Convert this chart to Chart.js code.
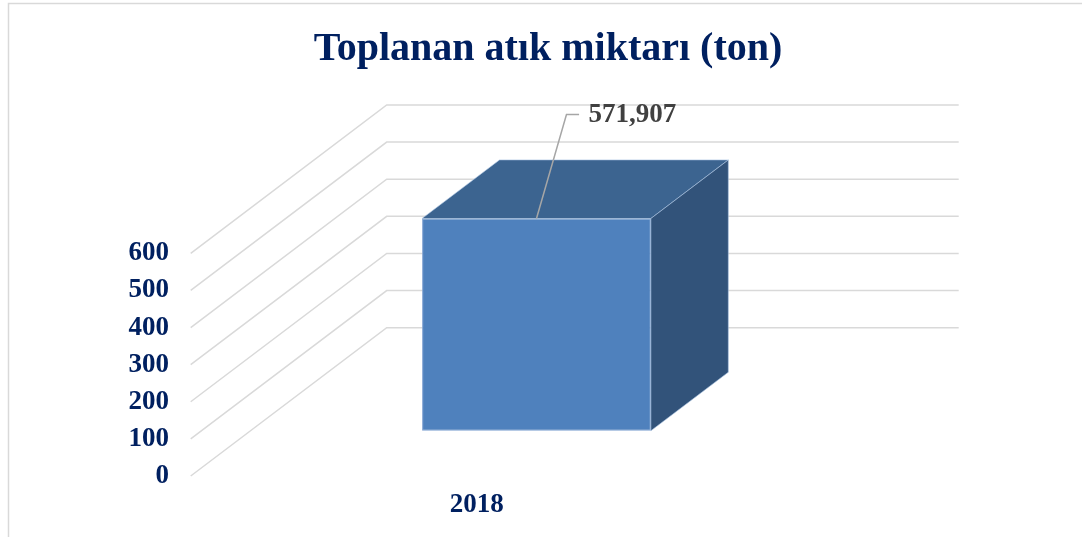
<!DOCTYPE html>
<html>
<head>
<meta charset="utf-8">
<title>Toplanan atık miktarı</title>
<script src="https://cdn.jsdelivr.net/npm/chart.js@4.4.1/dist/chart.umd.min.js"></script>
<style>
  html, body { margin: 0; padding: 0; background: #ffffff; }
</style>
</head>
<body>
<canvas id="myChart" width="1082" height="537"></canvas>
<script>
const categories = ['2018'];
const wasteTons = [571.907];
const tickValues = [0, 100, 200, 300, 400, 500, 600];

// depth vector of the 3D box (front plane -> back wall)
const DEPTH_X = 196;
const DEPTH_Y = -148.3;
const BAR_FRONT = 0.305;   // where the bar front sits, share of depth
const BAR_DEPTH = 0.395;   // bar thickness, share of depth

var navy = '#002060';
var serif = '"Liberation Serif", "DejaVu Serif", serif';

Chart.defaults.font.family = serif;

function formatTr(v) {
    return v.toFixed(3).replace('.', ',');
}

function face(ctx, pts, fill) {
    ctx.beginPath();
    ctx.moveTo(pts[0][0], pts[0][1]);
    for (var i = 1; i < pts.length; i++) {
        ctx.lineTo(pts[i][0], pts[i][1]);
    }
    ctx.closePath();
    ctx.fillStyle = fill;
    ctx.fill();
    ctx.strokeStyle = 'rgba(170, 195, 225, 0.6)';
    ctx.lineWidth = 1;
    ctx.stroke();
}

var box3d = {
    id: 'box3d',
    beforeDraw: function (chart) {
        // thin frame round the chart
        var ctx = chart.ctx;
        ctx.save();
        ctx.strokeStyle = '#d9d9d9';
        ctx.lineWidth = 1.5;
        ctx.strokeRect(8.5, 3.5, chart.width + 20, chart.height + 20);
        ctx.restore();
    },
    beforeDatasetsDraw: function (chart) {
        // side wall + back wall grid lines
        var ctx = chart.ctx, area = chart.chartArea, y = chart.scales.y;
        ctx.save();
        ctx.strokeStyle = '#d9d9d9';
        ctx.lineWidth = 1.5;
        y.ticks.forEach(function (t) {
            var py = y.getPixelForValue(t.value);
            ctx.beginPath();
            ctx.moveTo(area.left, py);
            ctx.lineTo(area.left + DEPTH_X, py + DEPTH_Y);
            ctx.lineTo(area.right + DEPTH_X, py + DEPTH_Y);
            ctx.stroke();
        });
        ctx.restore();
    },
    beforeDatasetDraw: function (chart) {
        // push the front face into the box
        chart.ctx.save();
        chart.ctx.translate(DEPTH_X * BAR_FRONT, DEPTH_Y * BAR_FRONT);
    },
    afterDatasetDraw: function (chart, args) {
        var ctx = chart.ctx;
        var bx = DEPTH_X * BAR_DEPTH, by = DEPTH_Y * BAR_DEPTH;
        args.meta.data.forEach(function (bar) {
            var p = bar.getProps(['x', 'y', 'base', 'width'], true);
            var l = p.x - p.width / 2, r = p.x + p.width / 2;
            face(ctx, [[l, p.y], [r, p.y], [r + bx, p.y + by], [l + bx, p.y + by]], '#3c6490');
            face(ctx, [[r, p.y], [r + bx, p.y + by], [r + bx, p.base + by], [r, p.base]], '#32537a');
        });
        ctx.restore();
    },
    afterDatasetsDraw: function (chart) {
        // value label with leader line
        var ctx = chart.ctx;
        var meta = chart.getDatasetMeta(0);
        ctx.save();
        meta.data.forEach(function (bar, i) {
            var sx = bar.x + DEPTH_X * BAR_FRONT;
            var sy = bar.y + DEPTH_Y * BAR_FRONT;
            var ex = sx + 30, ey = sy - 104;
            ctx.strokeStyle = '#a6a6a6';
            ctx.lineWidth = 1.5;
            ctx.beginPath();
            ctx.moveTo(sx, sy);
            ctx.lineTo(ex, ey);
            ctx.lineTo(ex + 12.6, ey);
            ctx.stroke();

            ctx.font = 'bold 27px ' + serif;
            ctx.fillStyle = '#404040';
            ctx.textAlign = 'left';
            ctx.textBaseline = 'middle';
            ctx.fillText(formatTr(wasteTons[i]), ex + 22, ey + 1);
        });
        ctx.restore();
    }
};

var ctx = document.getElementById('myChart').getContext('2d');

var chart = new Chart(ctx, {
    type: 'bar',
    data: {
        labels: categories,
        datasets: [{
            label: 'Toplanan atık (ton)',
            data: wasteTons,
            backgroundColor: '#4f81bd',
            borderColor: '#7fa2d2',
            borderWidth: 1,
            borderSkipped: false,
            barPercentage: 0.4,
            categoryPercentage: 1.0,
            clip: false
        }]
    },
    options: {
        responsive: false,
        animation: false,
        events: [],
        layout: { padding: { left: 14, right: 0, top: 0, bottom: 0 } },
        plugins: {
            legend: { display: false },
            tooltip: { enabled: false },
            title: {
                display: true,
                text: 'Toplanan atık miktarı (ton)',
                color: navy,
                font: { size: 40, weight: 'bold', family: serif },
                padding: { top: 25.5, bottom: 179.8 }
            }
        },
        scales: {
            x: {
                grid: { display: false, drawTicks: false },
                border: { display: false },
                ticks: {
                    color: navy,
                    padding: 13,
                    font: { size: 27, weight: 'bold', family: serif }
                },
                afterFit: function (s) { s.height = 61; }
            },
            y: {
                min: 0,
                max: 600,
                afterBuildTicks: function (s) {
                    s.ticks = tickValues.map(function (v) { return { value: v }; });
                },
                grid: { display: false, drawTicks: false },
                border: { display: false },
                ticks: {
                    color: navy,
                    padding: 21.7,
                    font: { size: 27, weight: 'bold', family: serif }
                },
                afterFit: function (s) { s.width = 176.7; }
            },
            // empty space on the right, keeps the box where it belongs
            y2: {
                type: 'linear',
                position: 'right',
                grid: { display: false, drawTicks: false },
                border: { display: false },
                ticks: { display: false },
                afterFit: function (s) { s.width = 319.3; }
            }
        }
    },
    plugins: [box3d]
});
</script>
</body>
</html>
